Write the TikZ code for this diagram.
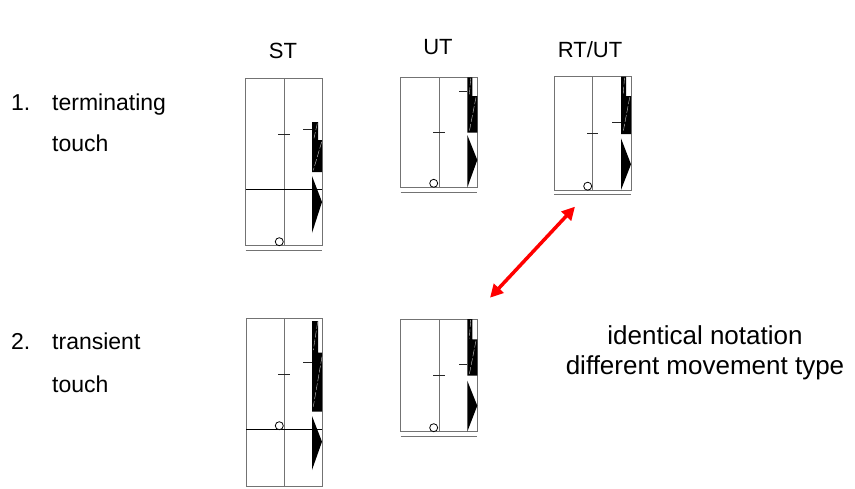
\documentclass[tikz,border=0pt]{standalone}
\usepackage{fontspec}
\setmainfont{Liberation Sans}
\usetikzlibrary{arrows.meta}
\tikzset{
%%%%%%%%%%  staff styles
staff/.style={draw=black!55, line width=1pt},
floorline/.style={draw=black, line width=1pt},
tick/.style={draw=black!85, line width=1pt},
staffbar/.style={fill=black},
slash/.style={draw=white!80!black, line width=0.4pt, dash pattern=on 7pt off 2pt},
contact/.style={draw=black, fill=white, line width=0.8pt},
%%%%%%%%%%  text styles
heading/.style={inner sep=0pt, font=\fontsize{22}{26}\selectfont},
rowtext/.style={inner sep=0pt, anchor=base west, font=\fontsize{23}{27}\selectfont},
notetext/.style={inner sep=0pt, anchor=base, font=\fontsize{26}{30}\selectfont},
%%%%%%%%%%  connector
redarrow/.style={draw=red, line width=3.5pt,
                 {Triangle[length=13pt,width=13pt]}-{Triangle[length=13pt,width=13pt]}}
}

\begin{document}
\begin{tikzpicture}[x=1pt,y=-1pt]
\useasboundingbox (0,0) rectangle (855,488);
%% column headings
\node[heading, anchor=base] (hST) at (283,58.5) {ST};
\node[heading, anchor=base] (hUT) at (438,54.5) {UT};
\node[heading, anchor=base] (hRTUT) at (590,57) {RT/UT};
%% row labels
\node[rowtext] (num1) at (11,110) {1.};
\node[rowtext] (term) at (52,110) {terminating};
\node[rowtext] (touch1) at (52,151.7) {touch};
\node[rowtext] (num2) at (11,349.5) {2.};
\node[rowtext] (trans) at (52,349.5) {transient};
\node[rowtext] (touch2) at (52,392) {touch};
%%%%%%%%%%%%%%%%%%%%%%%%%%%%%%%%%%%%%%%%%%%%%%
%% ST, terminating
\begin{scope}[shift={(245.7,78.3)}]
\draw[staff] (0,0) rectangle (76.3,167.4);
\draw[staff] (38.3,0) -- (38.3,167.4);
\draw[staff] (0,171.7) -- (76.3,171.7);
\draw[floorline] (0,110.7) -- (76.3,110.7);
%% ticks
\draw[tick] (32.3,55.7) -- (44.3,55.7);
\draw[tick] (57.3,50.7) -- (66.3,50.7);
%% bar and wedge
\fill[staffbar] (66.3,43.7) -- (72.3,43.7) -- (72.3,61.7) -- (76.3,61.7)
	-- (76.3,93.7) -- (66.3,93.7) -- cycle;
\draw[slash] (71.6,45) -- (68.3,60);
\draw[slash] (76,63.5) -- (67.6,92);
\fill[staffbar] (66.3,97.7) -- (76.3,123.7) -- (66.3,154.7) -- cycle;
\draw[contact] (33.6,163.4) circle (4pt);
\end{scope}
%%%%%%%%%%%%%%%%%%%%%%%%%%%%%%%%%%%%%%%%%%%%%%
%% UT, terminating
\begin{scope}[shift={(400.7,77.3)}]
\draw[staff] (0,0) rectangle (76.6,110.4);
\draw[staff] (38.6,0) -- (38.6,110.4);
\draw[staff] (0,115.4) -- (76.6,115.4);
%% ticks
\draw[tick] (32.3,55) -- (44.3,55);
\draw[tick] (58.3,13.7) -- (66.6,13.7);
%% bar and wedge
\fill[staffbar] (66.6,0) -- (71.6,0) -- (71.6,18.7) -- (76.6,18.7)
	-- (76.6,55.4) -- (66.6,55.4) -- cycle;
\draw[slash] (70,1) -- (68.6,17.7);
\draw[slash] (75.3,20) -- (68.6,54);
\fill[staffbar] (66.6,57.7) -- (76.6,82.7) -- (66.6,110.4) -- cycle;
\draw[contact] (33,106) circle (4pt);
\end{scope}
%%%%%%%%%%%%%%%%%%%%%%%%%%%%%%%%%%%%%%%%%%%%%%
%% RT/UT, terminating
\begin{scope}[shift={(554.3,76.7)}]
\draw[staff] (0,0) rectangle (76.7,113.3);
\draw[staff] (38.4,0) -- (38.4,113.3);
\draw[staff] (0,117.6) -- (76.7,117.6);
%% ticks
\draw[tick] (32.7,56.6) -- (44,56.6);
\draw[tick] (58,45.3) -- (66.7,45.3);
%% bar and wedge
\fill[staffbar] (66.7,0) -- (71.7,0) -- (71.7,19.3) -- (76.7,19.3)
	-- (76.7,57.3) -- (66.7,57.3) -- cycle;
\draw[slash] (70.2,1) -- (68.8,18.3);
\draw[slash] (75.4,20.6) -- (68.7,56);
\fill[staffbar] (66.7,61.6) -- (76.7,87.6) -- (66.7,113.3) -- cycle;
\draw[contact] (33.4,109.5) circle (4pt);
\end{scope}
%%%%%%%%%%%%%%%%%%%%%%%%%%%%%%%%%%%%%%%%%%%%%%
%% ST, transient
\begin{scope}[shift={(246,318.3)}]
\draw[staff] (0,0) rectangle (76,167.7);
\draw[staff] (38,0) -- (38,167.7);
\draw[floorline] (0,111) -- (76,111);
%% ticks
\draw[tick] (32,56) -- (44,56);
\draw[tick] (57.3,44.4) -- (66,44.4);
%% bar and wedge
\fill[staffbar] (66,2.7) -- (72,2.7) -- (72,34.4) -- (76,34.4)
	-- (76,93.4) -- (66,93.4) -- cycle;
\draw[slash] (71.7,3.4) -- (67.3,31.7);
\draw[slash] (76,38.4) -- (67.3,88.4);
\fill[staffbar] (66,97.7) -- (76,123.4) -- (66,151.7) -- cycle;
\draw[contact] (33.3,107.4) circle (4pt);
\end{scope}
%%%%%%%%%%%%%%%%%%%%%%%%%%%%%%%%%%%%%%%%%%%%%%
%% UT, transient
\begin{scope}[shift={(400.7,319)}]
\draw[staff] (0,0) rectangle (76.6,112.7);
\draw[staff] (38.6,0) -- (38.6,112.7);
\draw[staff] (0,117) -- (76.6,117);
%% ticks
\draw[tick] (32.3,56.7) -- (44.3,56.7);
\draw[tick] (58.3,45) -- (66.6,45);
%% bar and wedge
\fill[staffbar] (66.6,0) -- (71.6,0) -- (71.6,20.3) -- (76.6,20.3)
	-- (76.6,56.7) -- (66.6,56.7) -- cycle;
\draw[slash] (70,1) -- (68.6,19.3);
\draw[slash] (75.3,21.6) -- (68.6,55.4);
\fill[staffbar] (66.6,61.7) -- (76.6,86.7) -- (66.6,112.7) -- cycle;
\draw[contact] (33,108.7) circle (4pt);
\end{scope}
%%%%%%%%%%%%%%%%%%%%%%%%%%%%%%%%%%%%%%%%%%%%%%
%% arrow between the two notations
\coordinate (arrtop) at (575,206.7);
\coordinate (arrbot) at (490,297.7);
\draw[redarrow] (arrbot) -- (arrtop);
%% note
\node[notetext] (note1) at (705,344.3) {identical notation};
\node[notetext] (note2) at (705,374.3) {different movement type};
\end{tikzpicture}
\end{document}
